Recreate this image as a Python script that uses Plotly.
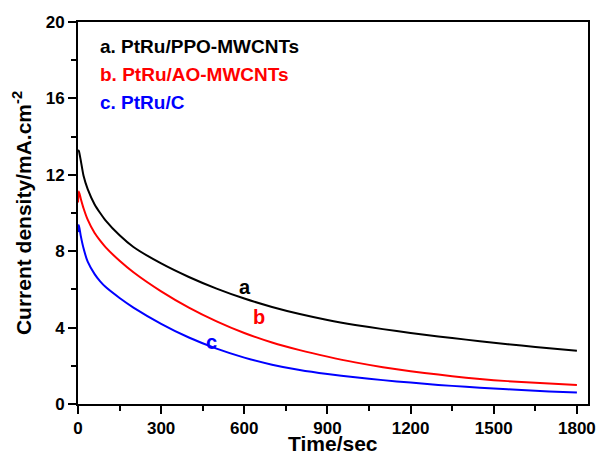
import plotly.graph_objects as go

time_s = [0, 3, 10, 20, 35, 60, 80, 100, 150, 200, 300, 400, 500, 600, 700, 800, 900,
          1000, 1100, 1200, 1300, 1400, 1500, 1600, 1700, 1800]
curve_a = [13.3, 13.25, 12.75, 11.95, 11.25, 10.45, 10.0, 9.6, 8.83, 8.22, 7.36, 6.65, 6.04,
           5.52, 5.08, 4.71, 4.4, 4.14, 3.92, 3.72, 3.54, 3.37, 3.21, 3.06, 2.92, 2.79]
curve_b = [10.55, 11.12, 10.75, 10.25, 9.65, 8.95, 8.55, 8.2, 7.5, 6.9, 5.9, 5.05, 4.33,
           3.72, 3.22, 2.82, 2.48, 2.18, 1.93, 1.72, 1.54, 1.38, 1.25, 1.15, 1.07, 1.0]
curve_c = [9.0, 9.37, 8.8, 8.15, 7.45, 6.8, 6.42, 6.12, 5.55, 5.05, 4.2, 3.48, 2.9,
           2.43, 2.06, 1.78, 1.57, 1.4, 1.25, 1.12, 1.0, 0.9, 0.81, 0.73, 0.66, 0.6]

series_names = ["a. PtRu/PPO-MWCNTs", "b. PtRu/AO-MWCNTs", "c. PtRu/C"]
series_colors = ["#000000", "#ff0000", "#0000ff"]
curve_labels = ["a", "b", "c"]
label_pos = [(604, 6.1), (654, 4.55), (481, 3.25)]

x_ticks = [0, 300, 600, 900, 1200, 1500, 1800]
y_ticks = [0, 4, 8, 12, 16, 20]

FONT = "Liberation Sans, Arial, sans-serif"

fig = go.Figure()
for ys, c, n in zip([curve_a, curve_b, curve_c], series_colors, series_names):
    fig.add_trace(go.Scatter(x=time_s, y=ys, mode="lines", name=n,
                             line=dict(color=c, width=2, shape="spline", smoothing=0.6)))

for lab, (lx, ly), c in zip(curve_labels, label_pos, series_colors):
    fig.add_annotation(x=lx, y=ly, text=f"<b>{lab}</b>", showarrow=False,
                       font=dict(family=FONT, size=20, color=c), xref="x", yref="y")

for i, (n, c) in enumerate(zip(series_names, series_colors)):
    fig.add_annotation(x=0.039, y=0.935 - i * 0.0725, xref="paper", yref="paper",
                       xanchor="left", yanchor="middle", showarrow=False,
                       text=f"<b>{n}</b>", font=dict(family=FONT, size=19, color=c))

# x-axis title placed as annotation so it sits as close to the tick labels as in the reference
fig.add_annotation(x=0.5, y=-0.104, xref="paper", yref="paper", xanchor="center",
                   yanchor="middle", showarrow=False, text="<b>Time/sec</b>",
                   font=dict(family=FONT, size=21, color="black"))

axis_common = dict(showline=True, linecolor="black", linewidth=2, mirror=True,
                   ticks="outside", ticklen=8, tickwidth=2, tickcolor="black",
                   showgrid=False, zeroline=False, automargin=False,
                   tickfont=dict(family=FONT, size=17, color="black", weight="bold"))

fig.update_xaxes(range=[0, 1840], tickvals=x_ticks,
                 minor=dict(ticks="outside", ticklen=5, tickwidth=2, dtick=150, tick0=0, tickcolor="black"),
                 **axis_common)
fig.update_yaxes(range=[0, 20], tickvals=y_ticks,
                 minor=dict(ticks="outside", ticklen=5, tickwidth=2, dtick=2, tick0=0, tickcolor="black"),
                 title=dict(text="<b>Current density/mA.cm<sup>-2</sup></b>", font=dict(family=FONT, size=21, color="black"), standoff=8),
                 **axis_common)

fig.update_layout(width=601, height=462, margin=dict(l=78, r=13, t=22, b=58),
                  paper_bgcolor="white", plot_bgcolor="white", showlegend=False)

fig.write_html("out.html")
